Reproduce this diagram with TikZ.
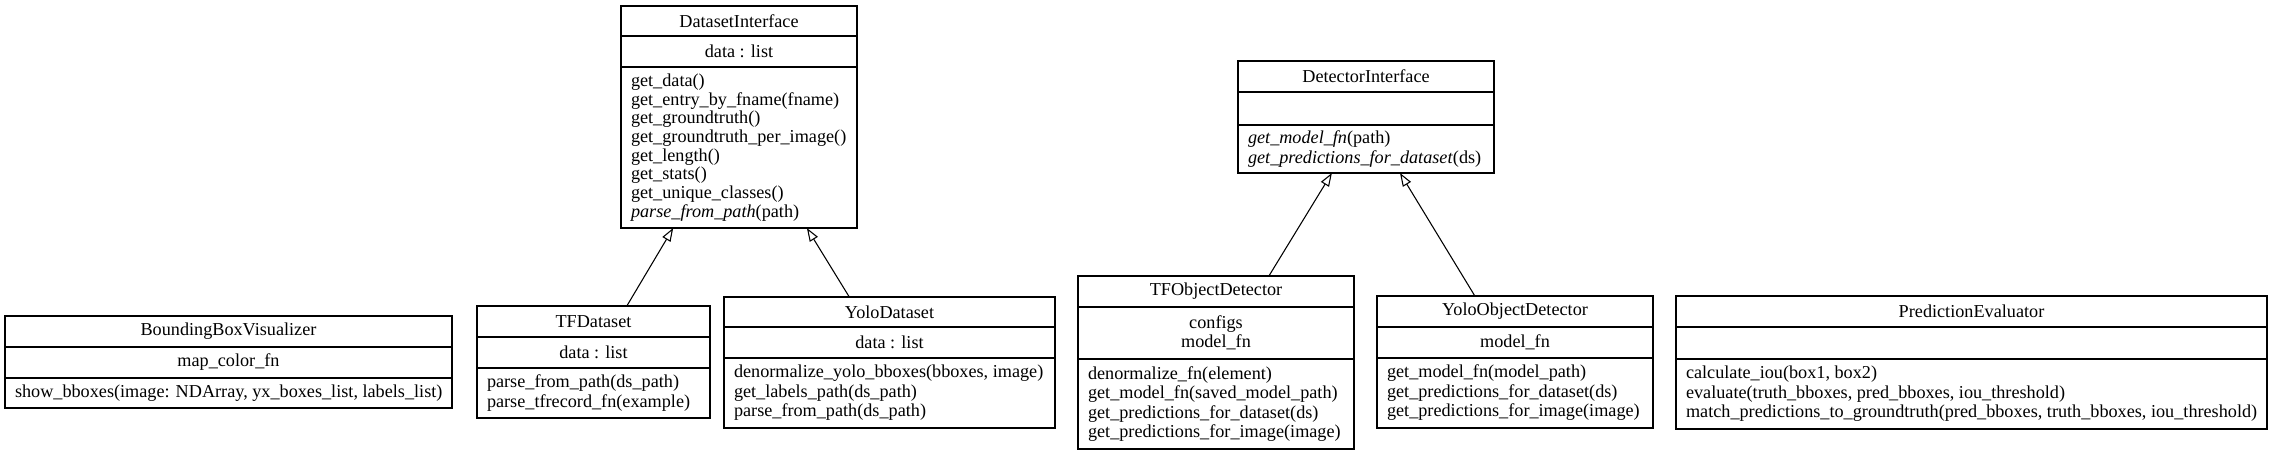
\documentclass[tikz,border=0pt]{standalone}
\usepackage{fontspec}
\setmainfont{Liberation Serif}
\usetikzlibrary{shapes.multipart,arrows.meta}

\newlength{\px}
\setlength{\px}{0.75pt}
% compartments of a class box: width, height, text
\newcommand{\cmid}[3]{\parbox[c][\dimexpr#2\px-0.8pt\relax][c]{#1\px}{\centering #3}}
\newcommand{\cleft}[3]{\parbox[c][\dimexpr#2\px-0.8pt\relax][c]{#1\px}{\raggedright\leftskip=7.5pt\relax #3}}

\begin{document}
\begin{tikzpicture}[x=0.75pt,y=0.75pt,
        umlclass/.style={draw,line width=0.8pt,rectangle split,rectangle split parts=3,
            inner sep=0pt,outer sep=0pt,anchor=north west,font=\fontsize{13.65}{14.6}\selectfont},
        inherit/.style={line width=0.8pt,-{Triangle[open,length=10pt,width=7pt]}}]
        \useasboundingbox (0,0) rectangle (2273,-455);

        \node[umlclass] (dsi) at (621,-6) {\cmid{236}{30}{DatasetInterface}
            \nodepart{second}\cmid{236}{31}{data : list}
            \nodepart{third}\cleft{236}{161}{\baselineskip=14pt\relax get\_data()\\ get\_entry\_by\_fname(fname)\\ get\_groundtruth()\\ get\_groundtruth\_per\_image()\\ get\_length()\\ get\_stats()\\ get\_unique\_classes()\\ \textit{parse\_from\_path}(path)}};
        \node[umlclass] (deti) at (1238,-61) {\cmid{256}{31}{DetectorInterface}
            \nodepart{second}\cmid{256}{33}{}
            \nodepart{third}\cleft{256}{48}{\textit{get\_model\_fn}(path)\\ \textit{get\_predictions\_for\_dataset}(ds)}};

        \node[umlclass] (bbv) at (5,-316) {\cmid{447}{31}{BoundingBoxVisualizer}
            \nodepart{second}\cmid{447}{31}{map\_color\_fn}
            \nodepart{third}\cleft{447}{30}{show\_bboxes(image: NDArray, yx\_boxes\_list, labels\_list)}};
        \node[umlclass] (tfd) at (477,-306) {\cmid{233}{31}{TFDataset}
            \nodepart{second}\cmid{233}{31}{data : list}
            \nodepart{third}\cleft{233}{50}{parse\_from\_path(ds\_path)\\ parse\_tfrecord\_fn(example)}};
        \node[umlclass] (yd) at (724,-297) {\cmid{331}{30}{YoloDataset}
            \nodepart{second}\cmid{331}{31}{data : list}
            \nodepart{third}\cleft{331}{70}{denormalize\_yolo\_bboxes(bboxes, image)\\ get\_labels\_path(ds\_path)\\ parse\_from\_path(ds\_path)}};
        \node[umlclass] (tfod) at (1078,-276) {\cmid{276}{31}{TFObjectDetector}
            \nodepart{second}\cmid{276}{52}{configs\\ model\_fn}
            \nodepart{third}\cleft{276}{90}{denormalize\_fn(element)\\ get\_model\_fn(saved\_model\_path)\\ get\_predictions\_for\_dataset(ds)\\ get\_predictions\_for\_image(image)}};
        \node[umlclass] (yod) at (1377,-296) {\cmid{276}{31}{YoloObjectDetector}
            \nodepart{second}\cmid{276}{31}{model\_fn}
            \nodepart{third}\cleft{276}{70}{get\_model\_fn(model\_path)\\ get\_predictions\_for\_dataset(ds)\\ get\_predictions\_for\_image(image)}};
        \node[umlclass] (pe) at (1676,-296) {\cmid{591}{31}{PredictionEvaluator}
            \nodepart{second}\cmid{591}{32}{}
            \nodepart{third}\cleft{591}{70}{calculate\_iou(box1, box2)\\ evaluate(truth\_bboxes, pred\_bboxes, iou\_threshold)\\ match\_predictions\_to\_groundtruth(pred\_bboxes, truth\_bboxes, iou\_threshold)}};

        \draw[inherit] (tfd) -- (dsi);
        \draw[inherit] (yd) -- (dsi);
        \draw[inherit] (tfod) -- (deti);
        \draw[inherit] (yod) -- (deti);
\end{tikzpicture}
\end{document}
